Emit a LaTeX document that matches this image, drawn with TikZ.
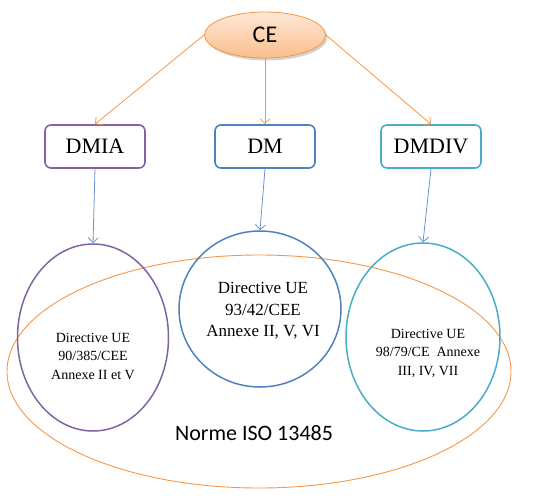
\documentclass[tikz,border=0pt]{standalone}
\usepackage{fontspec}
\setmainfont{Liberation Serif}
\newfontfamily\carlito{Carlito}
\usetikzlibrary{arrows.meta,shapes.geometric,shadows,positioning}
\definecolor{ceorange}{HTML}{F79646}
\definecolor{dmpurple}{HTML}{8064A2}
\definecolor{dmblue}{HTML}{4F81BD}
\definecolor{dmteal}{HTML}{4BACC6}

\begin{document}
\begin{tikzpicture}[x=1pt,y=-1pt,>={Straight Barb[length=5pt,width=10pt]},
 box/.style={draw,line width=1.6pt,rounded corners=6pt,fill=white,minimum width=100pt,minimum height=43pt,font=\fontsize{22}{24}\selectfont},
 oval/.style={ellipse,draw,line width=1.5pt,inner sep=0pt},
 dirtext/.style={align=center,font=\fontsize{14}{18.5}\selectfont},
 arrow/.style={->,line width=0.8pt}]
\useasboundingbox (0,0) rectangle (534,498);
% norme ISO
\node[oval,draw=ceorange,line width=0.9pt,minimum width=504pt,minimum height=233pt] (iso) at (259,371.5) {};
\node[font=\carlito\fontsize{22}{24}\selectfont] (norme) at (254,433) {Norme ISO 13485};
% top node
\node[ellipse,draw=ceorange,line width=0.8pt,minimum width=121pt,minimum height=46pt,top color=ceorange!22!white,bottom color=ceorange!62!white,drop shadow={shadow xshift=2pt,shadow yshift=-2.5pt,opacity=.35},font=\carlito\fontsize{24}{26}\selectfont] (ce) at (265,35) {CE};
% directives
\node[box,draw=dmpurple] (dmia) at (95,146.5) {DMIA};
\node[box,draw=dmblue] (dm) at (265,146.5) {DM};
\node[box,draw=dmteal] (dmdiv) at (431,146.5) {DMDIV};
\node[oval,draw=dmpurple,minimum width=151pt,minimum height=187pt] (purp) at (93,337.5) {};
\node[oval,draw=dmblue,minimum width=162pt,minimum height=156pt] (blue) at (260,309) {};
\node[oval,draw=dmteal,minimum width=154pt,minimum height=188pt] (teal) at (423,337) {};
\node[dirtext] (t1) at (93,356) {Directive UE\\90/385/CEE\\Annexe II et V};
\node[dirtext,font=\fontsize{17}{21.5}\selectfont] (t2) at (263,311) {Directive UE\\93/42/CEE\\Annexe II, V, VI};
\node[dirtext] (t3) at (428,353) {Directive UE\\98/79/CE~ Annexe\\III, IV, VII};
% connectors
\draw[arrow,ceorange] (ce.west) -- (dmia.north);
\draw[arrow,ceorange] (ce.south) -- (dm.north);
\draw[arrow,ceorange] (ce.east) -- (dmdiv.north);
\draw[arrow,dmblue!85] (dmia.south) -- (purp.north);
\draw[arrow,dmblue!85] (dm.south) -- (blue.north);
\draw[arrow,dmblue!85] (dmdiv.south) -- (teal.north);
\end{tikzpicture}
\end{document}
